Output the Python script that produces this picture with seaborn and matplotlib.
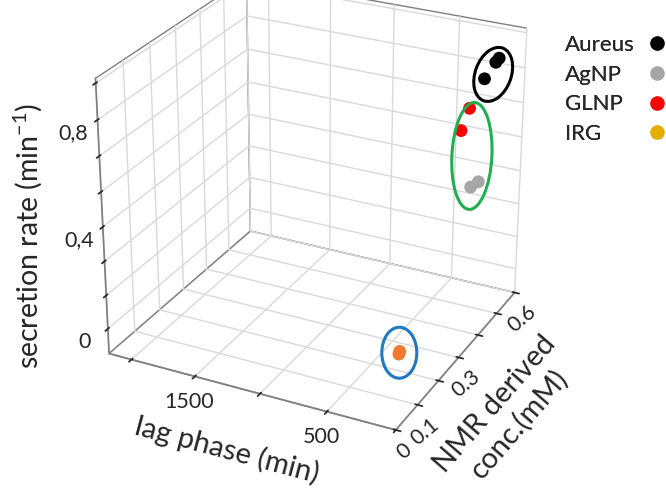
import numpy as np
import matplotlib
matplotlib.use('Agg')
import matplotlib.pyplot as plt
import seaborn as sns
from matplotlib.patches import Ellipse
from matplotlib.lines import Line2D
from matplotlib.transforms import IdentityTransform
from mpl_toolkits.mplot3d import proj3d

# values (lag phase in min, NMR conc in mM, secretion rate in 1/min)
groups = ['Aureus', 'AgNP', 'GLNP', 'IRG']
lag_aureus = [150, 140, 160]
conc_aureus = [0.55, 0.56, 0.50]
rate_aureus = [0.84, 0.85, 0.81]

lag_agnp = [150, 150]
conc_agnp = [0.48, 0.44]
rate_agnp = [0.43, 0.44]

lag_glnp = [150, 150]
conc_glnp = [0.42, 0.38]
rate_glnp = [0.755, 0.70]

lag_irg = [250, 260]
conc_irg = [0.17, 0.18]
rate_irg = [0.0, 0.0]

x_ticks = [0, 500, 1000, 1500, 2000]
x_ticklabels = ['', '500', '', '1500', '']
y_ticks = [0, 0.1, 0.2, 0.3, 0.4, 0.5, 0.6]
y_ticklabels = ['0', '0.1', '', '0.3', '', '', '0.6']
z_ticks = [0, 0.133, 0.267, 0.4, 0.533, 0.667, 0.8, 0.933]
z_ticklabels = ['0', '', '', '0,4', '', '', '0,8', '']

sns.set_theme(style='white')
plt.rcParams['font.family'] = ['Lato', 'DejaVu Sans']
plt.rcParams['mathtext.default'] = 'regular'
plt.rcParams['grid.color'] = '#d9d9d9'
plt.rcParams['grid.linewidth'] = 1.0
plt.rcParams['axes.edgecolor'] = '#7f7f7f'
plt.rcParams['text.color'] = '#262626'

dot_colors = sns.color_palette(['#000000', '#a6a6a6', '#ff0000', '#f07a30'])
legend_colors = sns.color_palette(['#000000', '#a6a6a6', '#ff0000', '#e6ac00'])
ring_colors = ['#000000', '#1fae50', '#1f78c0']

fig = plt.figure(figsize=(6.66, 4.97), dpi=100)
ax = fig.add_axes([0.036, 0.101, 0.86, 1.0], projection='3d',
                  proj_type='persp', focal_length=0.8)
ax.view_init(elev=26.2, azim=-63.4)
ax.set_box_aspect((1.15, 1.09, 1.09), zoom=1.035)

data = [(lag_aureus, conc_aureus, rate_aureus),
        (lag_agnp, conc_agnp, rate_agnp),
        (lag_glnp, conc_glnp, rate_glnp),
        (lag_irg, conc_irg, rate_irg)]
for (xs, ys, zs), c in zip(data, dot_colors):
    ax.scatter(xs, ys, zs, color=c, s=85, depthshade=False, edgecolors='none')

ax.set_xlim(2180, 0)
ax.set_ylim(0, 0.6)
ax.set_zlim(-0.1, 0.95)
ax.set_xticks(x_ticks)
ax.set_xticklabels(x_ticklabels, fontsize=15.5)
ax.set_yticks(y_ticks)
ax.set_yticklabels(y_ticklabels, fontsize=15.5, rotation=40)
ax.set_zticks(z_ticks)
ax.set_zticklabels(z_ticklabels, fontsize=15.5)
ax.tick_params(axis='x', pad=-1)
ax.tick_params(axis='y', pad=-3)
ax.tick_params(axis='z', pad=2)
ax.zaxis.set_ticks_position('lower')

for axis in (ax.xaxis, ax.yaxis, ax.zaxis):
    axis.set_pane_color((1, 1, 1, 1))
    axis.pane.set_edgecolor('#7f7f7f')
    axis.line.set_color('#7f7f7f')

ax.set_xlabel('lag phase (min)', fontsize=21, labelpad=6)
ax.set_ylabel('NMR derived\nconc.(mM)', fontsize=21, labelpad=11)
# vertical title sits to the left of the box, a bit below its middle
fig.text(0.042, 0.525, 'secretion rate (min$^{-1}$)', fontsize=20.5,
         rotation=90, ha='center', va='center')

# legend: names in a left-aligned column, dots in a column of their own
blank = [Line2D([], [], ls='none') for _ in groups]
dots = [Line2D([], [], marker='o', ls='none', color=c, markersize=9.5)
        for c in legend_colors]
leg_txt = fig.legend(blank, groups, loc='upper left', bbox_to_anchor=(0.818, 0.97),
                     frameon=False, fontsize=16, handlelength=0, handletextpad=0,
                     labelspacing=0.44)
fig.add_artist(leg_txt)
fig.legend(dots, [' '] * 4, loc='upper left', bbox_to_anchor=(0.943, 0.97),
           frameon=False, fontsize=16, handlelength=0.8, handletextpad=0,
           labelspacing=0.44)

# rings drawn round each cluster, placed from the projected points
fig.canvas.draw()
proj = ax.get_proj()
rings = [(36, 56, -20, 0, -8), (40, 107, -3, 2, -4), (35, 51, 0, 0, 0)]
ring_sets = [data[0], (lag_agnp + lag_glnp, conc_agnp + conc_glnp, rate_agnp + rate_glnp), data[3]]
for (xs, ys, zs), (w, h, ang, dx, dy), rc in zip(ring_sets, rings, ring_colors):
    px, py, _ = proj3d.proj_transform(np.array(xs, float), np.array(ys, float),
                                      np.array(zs, float), proj)
    disp = ax.transData.transform(np.column_stack([px, py]))
    cx, cy = disp.mean(axis=0)
    fig.add_artist(Ellipse((cx + dx, cy + dy), w, h, angle=ang, transform=IdentityTransform(),
                           fill=False, edgecolor=rc, linewidth=2.2))

fig.savefig('out.png', dpi=100)
